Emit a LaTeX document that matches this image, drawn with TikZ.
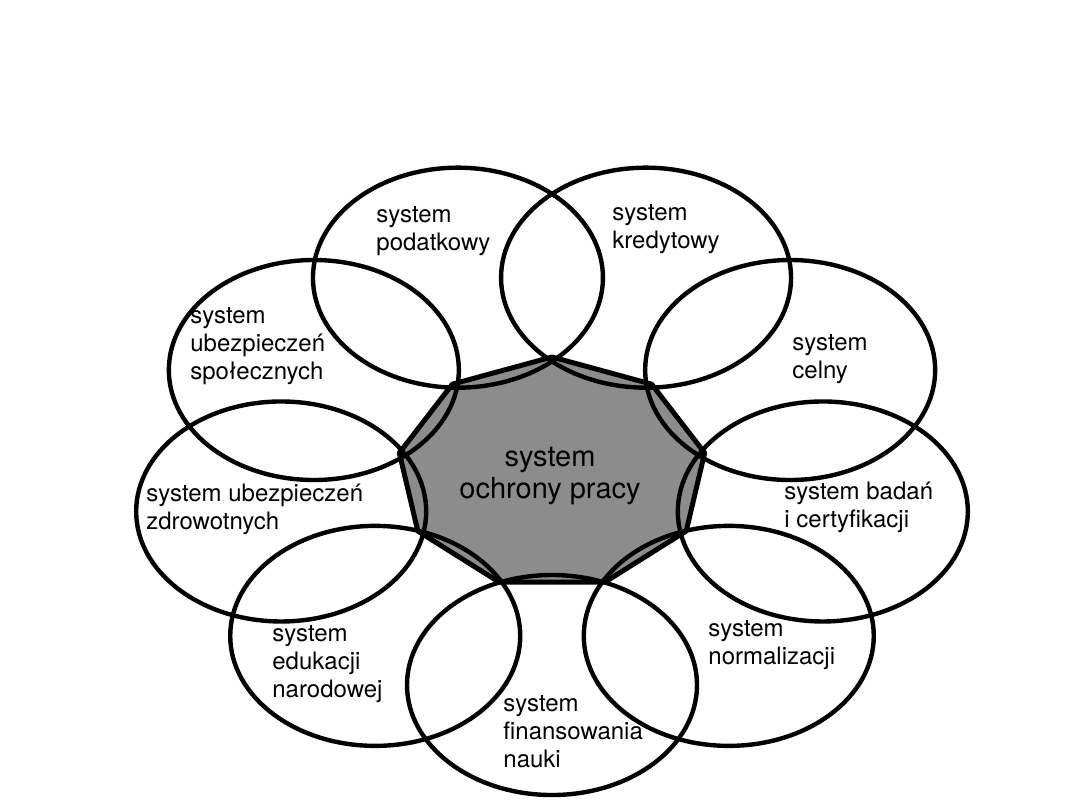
\documentclass[tikz,border=0pt]{standalone}
\usepackage{fontspec}
\setmainfont{TeX Gyre Heros}
\usetikzlibrary{shapes.geometric,calc}
\tikzset{
  ring/.style={draw, ellipse, line width=2.2pt, minimum width=145pt, minimum height=110pt, inner sep=0pt},
  lbl/.style={anchor=west, align=left, inner sep=0pt, font=\fontsize{12}{14}\selectfont},
  core/.style={draw, line width=2.5pt, line join=round, fill=black!45},
  corelbl/.style={align=center, inner sep=0pt, font=\fontsize{14.5}{16}\selectfont},
}
\begin{document}
\begin{tikzpicture}[x=0.5pt, y=-0.5pt]
  \useasboundingbox (0,0) rectangle (1080,810);
  \coordinate (o) at (552,475);
  % central nonagon
  \foreach \a [count=\i] in {-90,-50,-10,30,70,110,150,190,230}
    \coordinate (v\i) at ($(552,473)+(\a:155 and 116)$);
  \draw[core] (v1) \foreach \i in {2,...,9} {-- (v\i)} -- cycle;
  % rings around it
  \foreach \a/\n in {250/pod, 290/kre, 330/cel, 10/bad, 50/nor, 90/fin, 130/edu, 170/zdr, 210/spo}
    \node[ring] (\n) at ($(o)+(\a:275 and 210)$) {};
  \node[lbl] (pod-t) at (376,231) {system\\podatkowy};
  \node[lbl] (kre-t) at (612,229) {system\\kredytowy};
  \node[lbl] (cel-t) at (792,359) {system\\celny};
  \node[lbl] (bad-t) at (784,507) {system badań\\i certyfikacji};
  \node[lbl] (nor-t) at (708,645) {system\\normalizacji};
  \node[lbl] (fin-t) at (503,732) {system\\finansowania\\nauki};
  \node[lbl] (edu-t) at (272,664) {system\\edukacji\\narodowej};
  \node[lbl] (zdr-t) at (146,509) {system ubezpieczeń\\zdrowotnych};
  \node[lbl] (spo-t) at (190,346) {system\\ubezpieczeń\\społecznych};
  \node[corelbl] (ochr-t) at (550,476) {system\\ochrony pracy};
\end{tikzpicture}
\end{document}
